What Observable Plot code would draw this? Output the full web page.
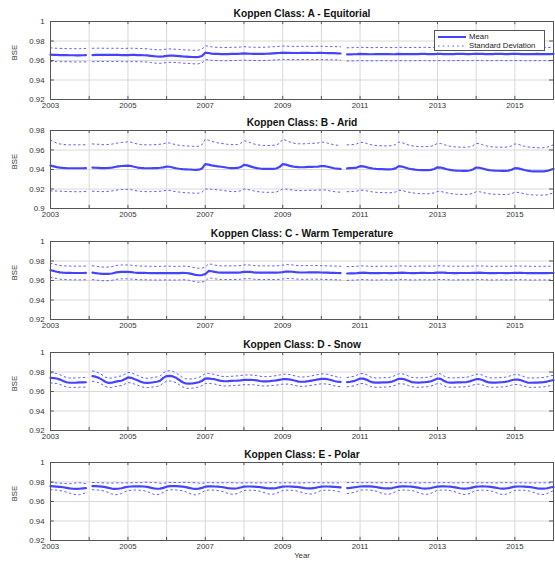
<!DOCTYPE html>
<html>
<head>
<meta charset="utf-8">
<script src="https://cdn.jsdelivr.net/npm/d3@7"></script>
<script src="https://cdn.jsdelivr.net/npm/@observablehq/plot@0.6"></script>
<style>
  html, body { margin: 0; padding: 0; background: #fff; }
  #chart { position: relative; width: 555px; height: 562px; background: #fff; overflow: hidden; font-family: "Liberation Sans", Arial, sans-serif; }
  .panel { position: absolute; left: 0; }
  #legend { position: absolute; left: 434px; top: 30px; width: 109px; height: 19px; border: 1px solid #555; background: #fff; font-size: 7.8px; color: #222; }
  #legend .row { position: absolute; left: 2px; height: 9px; display: flex; align-items: center; }
  #legend svg { display: block; margin-right: 2px; }
</style>
</head>
<body>
<div id="chart"></div>
<script>
// ---- Data (monthly, Jan 2003 .. Jan 2016; null = missing month) ----
const titles = [
  "Koppen Class: A - Equitorial",
  "Koppen Class: B - Arid",
  "Koppen Class: C - Warm Temperature",
  "Koppen Class: D - Snow",
  "Koppen Class: E - Polar"
];
const yLabel = "BSE";
const xLabel = "Year";
const legendLabels = ["Mean", "Standard Deviation"];
const yTicksStd = [0.92, 0.94, 0.96, 0.98, 1];
const yTicksArid = [0.9, 0.92, 0.94, 0.96, 0.98];
const labelYears = [2003, 2005, 2007, 2009, 2011, 2013, 2015];

const meanA = [
  .9660,.9658,.9657,.9656,.9655,.9655,.9654,.9654,.9653,.9653,.9654,.9655,
  null,.9656,.9657,.9658,.9658,.9657,.9657,.9657,.9658,.9657,.9656,.9655,
  .9656,.9657,.9657,.9656,.9655,.9654,.9652,.9648,.9644,.9641,.9640,.9643,
  .9648,.9650,.9649,.9647,.9645,.9642,.9640,.9638,.9636,.9635,.9637,.9646,
  .9680,.9677,.9671,.9668,.9667,.9666,.9665,.9666,.9667,.9668,.9668,.9670,
  .9673,.9671,.9669,.9668,.9668,.9667,.9668,.9669,.9671,.9673,.9675,.9677,
  .9680,.9679,.9678,.9677,.9677,.9677,.9678,.9678,.9678,.9677,.9677,.9678,
  .9678,.9677,.9676,.9675,.9675,.9674,.9672,null,.9662,.9663,.9664,.9665,
  .9667,.9666,.9665,.9664,.9664,.9665,.9665,.9666,.9666,.9665,.9664,.9665,
  .9667,.9666,.9665,.9665,.9665,.9666,.9666,.9667,.9667,.9666,.9665,.9666,
  .9668,.9667,.9666,.9665,.9665,.9666,.9667,.9667,.9667,.9666,.9666,.9667,
  .9669,.9668,.9667,.9666,.9666,.9666,.9667,.9667,.9667,.9666,.9666,.9667,
  .9668,.9667,.9666,.9665,.9665,.9666,.9666,.9667,.9666,.9666,.9665,.9666,
  .9667
];
const stdA = [
  .0070,.0069,.0068,.0068,.0068,.0067,.0067,.0068,.0068,.0068,.0068,.0069,
  null,.0069,.0069,.0068,.0068,.0068,.0068,.0068,.0068,.0068,.0068,.0069,
  .0069,.0069,.0068,.0068,.0068,.0068,.0068,.0068,.0069,.0069,.0069,.0069,
  .0069,.0069,.0068,.0068,.0068,.0068,.0069,.0069,.0069,.0070,.0070,.0070,
  .0071,.0070,.0069,.0068,.0068,.0068,.0068,.0068,.0068,.0068,.0068,.0068,
  .0069,.0068,.0068,.0068,.0068,.0068,.0068,.0068,.0068,.0068,.0068,.0068,
  .0069,.0068,.0068,.0068,.0068,.0068,.0068,.0068,.0068,.0068,.0068,.0068,
  .0069,.0068,.0068,.0068,.0068,.0068,.0068,null,.0068,.0068,.0068,.0068,
  .0069,.0068,.0068,.0068,.0068,.0068,.0068,.0068,.0068,.0068,.0068,.0068,
  .0069,.0068,.0068,.0068,.0068,.0068,.0068,.0068,.0068,.0068,.0068,.0068,
  .0069,.0068,.0068,.0068,.0068,.0068,.0068,.0068,.0068,.0068,.0068,.0068,
  .0069,.0068,.0068,.0068,.0068,.0068,.0068,.0068,.0068,.0068,.0068,.0068,
  .0069,.0068,.0068,.0068,.0068,.0068,.0068,.0068,.0068,.0068,.0068,.0068,
  .0068
];
const meanB = [
  .9440,.9432,.9425,.9420,.9416,.9414,.9413,.9413,.9413,.9413,.9413,.9414,
  null,.9420,.9418,.9416,.9414,.9414,.9416,.9420,.9426,.9432,.9436,.9438,
  .9440,.9436,.9428,.9420,.9416,.9414,.9413,.9413,.9414,.9415,.9418,.9422,
  .9430,.9428,.9420,.9413,.9408,.9404,.9402,.9400,.9398,.9397,.9398,.9410,
  .9455,.9450,.9443,.9437,.9432,.9428,.9423,.9418,.9415,.9414,.9416,.9425,
  .9447,.9442,.9432,.9422,.9414,.9410,.9407,.9406,.9406,.9407,.9410,.9425,
  .9455,.9450,.9440,.9432,.9426,.9424,.9423,.9424,.9426,.9427,.9428,.9430,
  .9436,.9434,.9428,.9420,.9413,.9409,.9407,null,.9412,.9414,.9416,.9420,
  .9434,.9432,.9425,.9416,.9410,.9406,.9404,.9403,.9402,.9402,.9404,.9412,
  .9434,.9430,.9420,.9410,.9403,.9398,.9395,.9393,.9393,.9393,.9396,.9405,
  .9422,.9420,.9412,.9403,.9396,.9391,.9388,.9387,.9386,.9386,.9390,.9400,
  .9420,.9418,.9410,.9401,.9394,.9390,.9388,.9387,.9386,.9386,.9388,.9398,
  .9414,.9412,.9404,.9395,.9388,.9384,.9381,.9380,.9380,.9381,.9385,.9395,
  .9407
];
const stdB = [
  .0260,.0252,.0246,.0242,.0240,.0240,.0240,.0240,.0241,.0241,.0240,.0240,
  null,.0242,.0243,.0242,.0241,.0240,.0240,.0240,.0241,.0241,.0241,.0242,
  .0244,.0243,.0242,.0241,.0240,.0240,.0240,.0240,.0240,.0241,.0241,.0242,
  .0244,.0243,.0242,.0241,.0240,.0240,.0240,.0240,.0240,.0240,.0241,.0243,
  .0255,.0250,.0246,.0243,.0241,.0240,.0240,.0240,.0240,.0241,.0241,.0243,
  .0248,.0246,.0243,.0241,.0240,.0240,.0240,.0240,.0240,.0241,.0241,.0243,
  .0255,.0250,.0245,.0242,.0241,.0240,.0240,.0240,.0240,.0241,.0241,.0242,
  .0246,.0244,.0242,.0241,.0240,.0240,.0240,null,.0240,.0240,.0241,.0242,
  .0246,.0245,.0243,.0241,.0240,.0240,.0240,.0240,.0240,.0241,.0241,.0243,
  .0247,.0246,.0244,.0242,.0241,.0241,.0241,.0241,.0241,.0242,.0242,.0244,
  .0247,.0246,.0244,.0243,.0242,.0242,.0242,.0242,.0242,.0242,.0243,.0244,
  .0248,.0246,.0245,.0243,.0242,.0242,.0242,.0242,.0242,.0243,.0243,.0245,
  .0248,.0247,.0245,.0244,.0243,.0243,.0243,.0243,.0243,.0243,.0244,.0245,
  .0246
];
const meanC = [
  .9705,.9698,.9690,.9684,.9680,.9679,.9678,.9677,.9677,.9677,.9677,.9678,
  null,.9680,.9676,.9672,.9668,.9667,.9668,.9672,.9680,.9686,.9688,.9688,
  .9688,.9686,.9682,.9679,.9678,.9678,.9677,.9676,.9675,.9675,.9675,.9676,
  .9677,.9676,.9675,.9675,.9676,.9678,.9677,.9673,.9665,.9658,.9654,.9656,
  .9665,.9698,.9695,.9688,.9682,.9680,.9680,.9680,.9680,.9680,.9681,.9683,
  .9688,.9690,.9688,.9684,.9681,.9680,.9680,.9680,.9680,.9680,.9681,.9682,
  .9686,.9692,.9692,.9690,.9686,.9683,.9682,.9682,.9683,.9684,.9684,.9683,
  .9682,.9681,.9680,.9679,.9678,.9677,.9676,null,.9672,.9673,.9674,.9676,
  .9679,.9680,.9678,.9676,.9675,.9675,.9676,.9677,.9677,.9676,.9676,.9677,
  .9679,.9680,.9679,.9677,.9676,.9676,.9677,.9678,.9678,.9677,.9677,.9678,
  .9680,.9681,.9680,.9678,.9677,.9676,.9676,.9677,.9677,.9677,.9677,.9678,
  .9679,.9680,.9679,.9677,.9676,.9676,.9676,.9677,.9677,.9676,.9676,.9677,
  .9678,.9679,.9678,.9677,.9676,.9675,.9675,.9676,.9676,.9676,.9676,.9677,
  .9677
];
const stdC = [
  .0072,.0071,.0070,.0070,.0070,.0070,.0070,.0070,.0070,.0070,.0070,.0070,
  null,.0071,.0071,.0070,.0070,.0070,.0070,.0070,.0070,.0071,.0071,.0071,
  .0071,.0071,.0070,.0070,.0070,.0070,.0070,.0070,.0070,.0070,.0070,.0070,
  .0071,.0071,.0070,.0070,.0070,.0070,.0070,.0070,.0071,.0071,.0071,.0071,
  .0072,.0072,.0071,.0070,.0070,.0070,.0070,.0070,.0070,.0070,.0070,.0070,
  .0071,.0071,.0070,.0070,.0070,.0070,.0070,.0070,.0070,.0070,.0070,.0070,
  .0071,.0071,.0071,.0070,.0070,.0070,.0070,.0070,.0070,.0070,.0070,.0070,
  .0070,.0070,.0070,.0070,.0070,.0070,.0070,null,.0070,.0070,.0070,.0070,
  .0071,.0070,.0070,.0070,.0070,.0070,.0070,.0070,.0070,.0070,.0070,.0070,
  .0071,.0070,.0070,.0070,.0070,.0070,.0070,.0070,.0070,.0070,.0070,.0070,
  .0071,.0070,.0070,.0070,.0070,.0070,.0070,.0070,.0070,.0070,.0070,.0070,
  .0071,.0070,.0070,.0070,.0070,.0070,.0070,.0070,.0070,.0070,.0070,.0070,
  .0071,.0070,.0070,.0070,.0070,.0070,.0070,.0070,.0070,.0070,.0070,.0070,
  .0070
];
const meanD = [
  .9740,.9737,.9733,.9722,.9708,.9695,.9690,.9690,.9691,.9693,.9694,.9695,
  null,.9758,.9752,.9740,.9722,.9700,.9688,.9690,.9698,.9706,.9710,.9725,
  .9744,.9740,.9728,.9716,.9700,.9690,.9688,.9690,.9695,.9700,.9710,.9740,
  .9758,.9760,.9755,.9740,.9718,.9695,.9682,.9680,.9682,.9688,.9695,.9710,
  .9733,.9735,.9730,.9726,.9716,.9708,.9705,.9706,.9708,.9710,.9712,.9715,
  .9719,.9720,.9719,.9718,.9714,.9708,.9704,.9704,.9706,.9710,.9714,.9720,
  .9726,.9727,.9725,.9718,.9710,.9702,.9700,.9702,.9706,.9712,.9718,.9724,
  .9730,.9729,.9726,.9718,.9708,.9700,.9698,null,.9696,.9700,.9706,.9718,
  .9733,.9732,.9722,.9705,.9693,.9691,.9692,.9693,.9694,.9696,.9702,.9716,
  .9730,.9731,.9724,.9710,.9697,.9693,.9692,.9693,.9695,.9698,.9705,.9718,
  .9733,.9730,.9710,.9695,.9691,.9692,.9693,.9694,.9695,.9697,.9704,.9716,
  .9726,.9726,.9718,.9704,.9693,.9691,.9692,.9693,.9695,.9698,.9705,.9715,
  .9723,.9722,.9715,.9702,.9692,.9690,.9691,.9692,.9694,.9696,.9702,.9710,
  .9716
];
const stdD = [
  .0052,.0052,.0051,.0050,.0049,.0048,.0048,.0048,.0048,.0048,.0049,.0050,
  null,.0053,.0052,.0050,.0049,.0048,.0048,.0048,.0048,.0049,.0049,.0050,
  .0052,.0052,.0051,.0050,.0049,.0048,.0048,.0048,.0048,.0049,.0049,.0051,
  .0053,.0053,.0052,.0050,.0049,.0048,.0048,.0048,.0048,.0048,.0049,.0050,
  .0051,.0051,.0050,.0050,.0049,.0048,.0048,.0048,.0048,.0048,.0049,.0049,
  .0050,.0050,.0050,.0049,.0049,.0048,.0048,.0048,.0048,.0048,.0049,.0049,
  .0051,.0051,.0050,.0049,.0049,.0048,.0048,.0048,.0048,.0048,.0049,.0050,
  .0051,.0051,.0050,.0049,.0049,.0048,.0048,null,.0048,.0048,.0049,.0050,
  .0051,.0051,.0050,.0049,.0048,.0048,.0048,.0048,.0048,.0048,.0049,.0050,
  .0051,.0051,.0050,.0049,.0048,.0048,.0048,.0048,.0048,.0048,.0049,.0050,
  .0051,.0051,.0050,.0049,.0048,.0048,.0048,.0048,.0048,.0048,.0049,.0050,
  .0051,.0051,.0050,.0049,.0048,.0048,.0048,.0048,.0048,.0048,.0049,.0050,
  .0051,.0051,.0050,.0049,.0048,.0048,.0048,.0048,.0048,.0048,.0049,.0050,
  .0050
];
const meanE = [
  .9758,.9756,.9753,.9750,.9746,.9740,.9734,.9731,.9730,.9731,.9734,.9737,
  null,.9758,.9757,.9755,.9752,.9747,.9740,.9733,.9730,.9731,.9736,.9745,
  .9751,.9754,.9755,.9755,.9755,.9754,.9750,.9742,.9734,.9731,.9732,.9740,
  .9752,.9757,.9758,.9757,.9755,.9753,.9748,.9740,.9733,.9730,.9732,.9740,
  .9752,.9755,.9755,.9754,.9752,.9749,.9744,.9738,.9734,.9733,.9736,.9744,
  .9752,.9754,.9754,.9753,.9751,.9748,.9743,.9737,.9734,.9734,.9738,.9745,
  .9752,.9754,.9754,.9753,.9751,.9747,.9742,.9737,.9735,.9735,.9739,.9746,
  .9752,.9754,.9754,.9753,.9751,.9748,.9744,null,.9738,.9740,.9744,.9749,
  .9754,.9756,.9756,.9755,.9753,.9749,.9743,.9737,.9734,.9734,.9738,.9746,
  .9753,.9755,.9755,.9754,.9752,.9748,.9742,.9736,.9733,.9734,.9738,.9746,
  .9753,.9755,.9755,.9754,.9752,.9748,.9742,.9736,.9733,.9733,.9737,.9745,
  .9752,.9754,.9755,.9754,.9752,.9748,.9742,.9736,.9733,.9733,.9737,.9745,
  .9752,.9754,.9754,.9753,.9751,.9747,.9741,.9735,.9732,.9732,.9736,.9744,
  .9750
];
const stdE = [
  .0038,.0037,.0037,.0038,.0040,.0043,.0048,.0055,.0061,.0061,.0055,.0046,
  null,.0037,.0037,.0038,.0040,.0043,.0048,.0055,.0061,.0060,.0054,.0046,
  .0039,.0038,.0037,.0038,.0040,.0043,.0048,.0054,.0060,.0061,.0055,.0047,
  .0039,.0038,.0037,.0038,.0040,.0043,.0048,.0054,.0061,.0062,.0056,.0047,
  .0039,.0038,.0037,.0038,.0040,.0043,.0048,.0054,.0059,.0059,.0054,.0046,
  .0039,.0038,.0038,.0038,.0040,.0043,.0048,.0054,.0059,.0059,.0054,.0046,
  .0039,.0038,.0038,.0038,.0040,.0043,.0048,.0054,.0058,.0058,.0053,.0046,
  .0039,.0038,.0038,.0038,.0040,.0043,.0047,null,.0056,.0055,.0051,.0045,
  .0038,.0037,.0037,.0038,.0040,.0043,.0048,.0055,.0059,.0059,.0054,.0046,
  .0039,.0038,.0038,.0038,.0040,.0043,.0048,.0055,.0060,.0059,.0054,.0046,
  .0039,.0038,.0038,.0038,.0040,.0043,.0048,.0055,.0060,.0060,.0055,.0046,
  .0039,.0038,.0038,.0038,.0040,.0043,.0048,.0055,.0060,.0060,.0055,.0046,
  .0039,.0038,.0038,.0038,.0040,.0043,.0049,.0056,.0060,.0060,.0055,.0046,
  .0040
];

// ---- Build ----
const months = d3.utcMonth.range(new Date(Date.UTC(2003, 0, 1)), new Date(Date.UTC(2016, 0, 2)));
const xDomain = [new Date(Date.UTC(2003, 0, 1)), new Date(Date.UTC(2016, 0, 1))];
const gridYears = d3.utcYear.range(xDomain[0], new Date(Date.UTC(2016, 0, 2)));
const innerYears = gridYears.slice(1, -1);
const labelDates = labelYears.map(y => new Date(Date.UTC(y, 0, 1)));
const tickLenX = new Date(Date.UTC(2003, 1, 6));
const tickLenXR = new Date(Date.UTC(2015, 10, 25));

const panels = [
  {title: titles[0], mean: meanA, std: stdA, yDomain: [0.92, 1], yTicks: yTicksStd},
  {title: titles[1], mean: meanB, std: stdB, yDomain: [0.9, 0.98], yTicks: yTicksArid},
  {title: titles[2], mean: meanC, std: stdC, yDomain: [0.92, 1], yTicks: yTicksStd},
  {title: titles[3], mean: meanD, std: stdD, yDomain: [0.92, 1], yTicks: yTicksStd},
  {title: titles[4], mean: meanE, std: stdE, yDomain: [0.92, 1], yTicks: yTicksStd}
];
const plotTops = [21, 130, 241, 352, 462];
const plotH = 78, mTop = 20, mBottom = 12;
const meanColor = "#4444ff", stdColor = "#5c5cff";
const yFmt = d => d === 1 ? "1" : d3.format(".2~f")(d);

const chart = document.getElementById("chart");
panels.forEach((p, k) => {
  const last = k === panels.length - 1;
  const mb = last ? 22 : mBottom;
  const span = p.yDomain[1] - p.yDomain[0];
  const data = months.map((date, i) => ({
    date,
    mean: p.mean[i],
    up: p.mean[i] == null || p.std[i] == null ? null : p.mean[i] + p.std[i],
    lo: p.mean[i] == null || p.std[i] == null ? null : p.mean[i] - p.std[i]
  }));
  const marks = [
    Plot.gridX(innerYears, {stroke: "#d9d9d9", strokeOpacity: 1}),
    Plot.gridY(p.yTicks, {stroke: "#d9d9d9", strokeOpacity: 1}),
    Plot.line(data, {x: "date", y: "up", stroke: stdColor, strokeWidth: 1, strokeDasharray: "1.6,3.2"}),
    Plot.line(data, {x: "date", y: "lo", stroke: stdColor, strokeWidth: 1, strokeDasharray: "1.6,3.2"}),
    Plot.line(data, {x: "date", y: "mean", stroke: meanColor, strokeWidth: 2.2}),
    Plot.axisX(labelDates, {tickFormat: d3.utcFormat("%Y"), tickSize: 0, tickPadding: 3, label: null, fontSize: 7.8, fill: "#333"}),
    Plot.axisY(p.yTicks, {tickFormat: yFmt, tickSize: 0, tickPadding: 6, label: null, fontSize: 7.8, fill: "#333"}),
    Plot.ruleX(innerYears, {x: d => d, y1: p.yDomain[0], y2: p.yDomain[0] + span * 0.04, stroke: "#555"}),
    Plot.ruleX(innerYears, {x: d => d, y1: p.yDomain[1], y2: p.yDomain[1] - span * 0.04, stroke: "#555"}),
    Plot.ruleY(p.yTicks, {y: d => d, x1: xDomain[0], x2: tickLenX, stroke: "#555"}),
    Plot.ruleY(p.yTicks, {y: d => d, x1: xDomain[1], x2: tickLenXR, stroke: "#555"}),
    Plot.frame({stroke: "#555"}),
    Plot.text([p.title], {frameAnchor: "top", dy: -12, fontWeight: "bold", fontSize: 10.2, fill: "#111"}),
    Plot.text([yLabel], {frameAnchor: "left", dx: -36, rotate: -90, fontSize: 7.8, fill: "#333"})
  ];
  if (last) marks.push(Plot.text([xLabel], {frameAnchor: "bottom", dy: 17, fontSize: 7.8, fill: "#333"}));
  const svg = Plot.plot({
    width: 555,
    height: mTop + plotH + mb,
    marginLeft: 50,
    marginRight: 2,
    marginTop: mTop,
    marginBottom: mb,
    style: {fontFamily: "Liberation Sans, Arial, sans-serif", background: "transparent", overflow: "visible"},
    x: {type: "utc", domain: xDomain},
    y: {domain: p.yDomain},
    marks
  });
  const wrap = document.createElement("div");
  wrap.className = "panel";
  wrap.style.top = (plotTops[k] - mTop) + "px";
  wrap.appendChild(svg);
  chart.appendChild(wrap);
});

// legend (panel A)
const legend = document.createElement("div");
legend.id = "legend";
legend.innerHTML =
  `<div class="row" style="top:1px"><svg width="30" height="6"><line x1="1" x2="29" y1="3" y2="3" stroke="${meanColor}" stroke-width="2"/></svg><span>${legendLabels[0]}</span></div>` +
  `<div class="row" style="top:10px"><svg width="30" height="6"><line x1="1" x2="29" y1="3" y2="3" stroke="${stdColor}" stroke-width="1" stroke-dasharray="1.6,3.2"/></svg><span>${legendLabels[1]}</span></div>`;
chart.appendChild(legend);
</script>
</body>
</html>
